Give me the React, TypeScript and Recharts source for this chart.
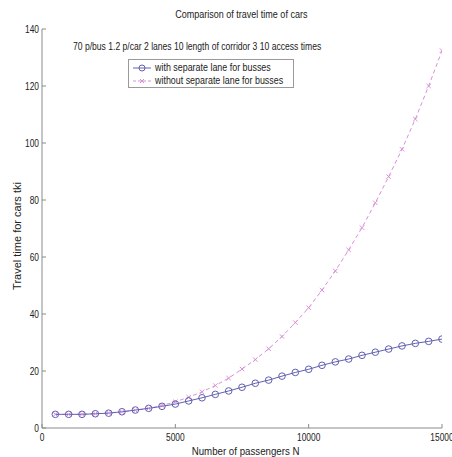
import React from 'react';
import { LineChart, Line, XAxis, YAxis } from 'recharts';

const passengers = [500, 1000, 1500, 2000, 2500, 3000, 3500, 4000, 4500, 5000, 5500, 6000, 6500, 7000, 7500, 8000, 8500, 9000, 9500, 10000, 10500, 11000, 11500, 12000, 12500, 13000, 13500, 14000, 14500, 15000];
const withLane = [4.8, 4.8, 4.8, 5.0, 5.2, 5.7, 6.3, 6.9, 7.6, 8.4, 9.5, 10.6, 11.8, 13.0, 14.3, 15.7, 16.8, 18.2, 19.5, 20.6, 22.0, 23.2, 24.2, 25.5, 26.6, 27.7, 28.8, 29.7, 30.4, 31.2];
const withoutLane = [4.8, 4.8, 4.8, 5.0, 5.3, 5.7, 6.2, 6.9, 7.9, 9.2, 10.8, 12.7, 14.9, 17.5, 20.7, 24.0, 27.8, 32.1, 37.0, 42.2, 48.4, 55.1, 62.5, 70.3, 79.0, 88.2, 97.8, 108.4, 120.0, 132.4];
const xTicks = [0, 5000, 10000, 15000];
const yTicks = [0, 20, 40, 60, 80, 100, 120, 140];
const seriesNames = ['with separate lane for busses', 'without separate lane for busses'];
const titleText = 'Comparison of travel time of cars';
const subtitleText = '70 p/bus 1.2 p/car 2 lanes 10 length of corridor 3 10 access times';
const xLabel = 'Number of passengers N';
const yLabel = 'Travel time for cars tki';

const data = passengers.map((n, i) => ({ n, a: withLane[i], b: withoutLane[i] }));

const FONT = '"Liberation Sans", Arial, sans-serif';
const BLUE = '#6060b0';
const PINK = '#d890d8';
const AXIS = '#8a8a8a';
const TEXT = '#222';
const SX = 0.84;

const BottomTick = (props: any) => {
  const { x, y, payload } = props;
  return (
    <g>
      <line x1={x} y1={y} x2={x} y2={y - 4} stroke={AXIS} />
      <text transform={`translate(${x},${y + 13}) scale(${SX},1)`} x={0} y={0} textAnchor="middle" fontSize={10} fontFamily={FONT} fill={TEXT}>{payload.value}</text>
    </g>
  );
};
const TopTick = (props: any) => {
  const { x, y } = props;
  return <line x1={x} y1={y} x2={x} y2={y + 4} stroke={AXIS} />;
};
const LeftTick = (props: any) => {
  const { x, y, payload } = props;
  return (
    <g>
      <line x1={x} y1={y} x2={x + 4} y2={y} stroke={AXIS} />
      <text transform={`translate(${x - 3},${y}) scale(${SX},1)`} x={0} y={0} dy="0.35em" textAnchor="end" fontSize={10} fontFamily={FONT} fill={TEXT}>{payload.value}</text>
    </g>
  );
};
const RightTick = (props: any) => {
  const { x, y } = props;
  return <line x1={x} y1={y} x2={x - 4} y2={y} stroke={AXIS} />;
};

const CircleDot = (props: any) => {
  const { cx, cy, index } = props;
  if (cx == null || cy == null) return null;
  return <circle key={`c${index}`} cx={cx} cy={cy} r={3.3} fill="none" stroke={BLUE} strokeWidth={1} />;
};
const XDot = (props: any) => {
  const { cx, cy, index } = props;
  if (cx == null || cy == null) return null;
  const s = 2.2;
  return (
    <g key={`x${index}`}>
      <line x1={cx - s} y1={cy - s} x2={cx + s} y2={cy + s} stroke={PINK} strokeWidth={1} />
      <line x1={cx - s} y1={cy + s} x2={cx + s} y2={cy - s} stroke={PINK} strokeWidth={1} />
    </g>
  );
};

const narrow = (s: number, origin: string): React.CSSProperties => ({ display: 'inline-block', transform: `scaleX(${s})`, transformOrigin: origin, whiteSpace: 'nowrap' });

const LegendBox = () => (
  <div style={{ position: 'absolute', left: 128, top: 59, border: '1px solid #9a9a9a', background: '#fff', width: 166, height: 29, boxSizing: 'border-box', fontFamily: FONT, fontSize: 10, color: TEXT }}>
    {[0, 1].map((i) => (
      <div key={i} style={{ position: 'absolute', left: 3, top: 1 + i * 13, height: 13, display: 'flex', alignItems: 'center', whiteSpace: 'nowrap' }}>
        <svg width={20} height={12} style={{ display: 'block' }}>
          {i === 0 ? (
            <g>
              <line x1={1} y1={6} x2={19} y2={6} stroke={BLUE} />
              <circle cx={10} cy={6} r={3} fill="none" stroke={BLUE} />
            </g>
          ) : (
            <g>
              <line x1={1} y1={6} x2={19} y2={6} stroke={PINK} strokeDasharray="3 2" />
              <line x1={8} y1={4} x2={12} y2={8} stroke={PINK} />
              <line x1={8} y1={8} x2={12} y2={4} stroke={PINK} />
            </g>
          )}
        </svg>
        <span style={{ ...narrow(0.89, 'left center'), marginLeft: 3 }}>{seriesNames[i]}</span>
      </div>
    ))}
  </div>
);

export default function App() {
  return (
    <div style={{ position: 'absolute', left: 0, top: 0, width: 452, height: 457, background: '#fff', overflow: 'hidden' }}>
      <LineChart width={452} height={457} data={data} margin={{ top: 29, right: 10, bottom: 0, left: 0 }}>
        <XAxis dataKey="n" type="number" domain={[0, 15000]} ticks={xTicks} height={29} tickSize={0} tickMargin={0} tick={<BottomTick />} axisLine={{ stroke: AXIS }} tickLine={false} interval={0} allowDataOverflow />
        <XAxis xAxisId="top" orientation="top" dataKey="n" type="number" domain={[0, 15000]} ticks={xTicks} height={0} tickSize={0} tickMargin={0} tick={<TopTick />} axisLine={{ stroke: AXIS }} tickLine={false} interval={0} allowDataOverflow />
        <YAxis type="number" domain={[0, 140]} ticks={yTicks} width={42} tickSize={0} tickMargin={0} tick={<LeftTick />} axisLine={{ stroke: AXIS }} tickLine={false} interval={0} allowDataOverflow />
        <YAxis yAxisId="right" orientation="right" type="number" domain={[0, 140]} ticks={yTicks} width={0} tickSize={0} tickMargin={0} tick={<RightTick />} axisLine={{ stroke: AXIS }} tickLine={false} interval={0} allowDataOverflow />
        <Line dataKey="b" name={seriesNames[1]} stroke={PINK} strokeWidth={1} strokeDasharray="4 3" dot={<XDot />} activeDot={false} isAnimationActive={false} type="linear" />
        <Line dataKey="a" name={seriesNames[0]} stroke={BLUE} strokeWidth={1} dot={<CircleDot />} activeDot={false} isAnimationActive={false} type="linear" />
      </LineChart>
      <LegendBox />
      <div style={{ position: 'absolute', left: 0, width: 482, top: 9, textAlign: 'center', fontFamily: FONT, fontSize: 10, color: TEXT }}>
        <span style={narrow(0.9, 'center center')}>{titleText}</span>
      </div>
      <div style={{ position: 'absolute', left: 73, top: 41, fontFamily: FONT, fontSize: 10, color: TEXT }}>
        <span style={narrow(0.857, 'left center')}>{subtitleText}</span>
      </div>
      <div style={{ position: 'absolute', left: 0, width: 492, top: 446, textAlign: 'center', fontFamily: FONT, fontSize: 10, color: TEXT }}>
        <span style={narrow(0.97, 'center center')}>{xLabel}</span>
      </div>
      <div style={{ position: 'absolute', left: 17, top: 236, width: 0, height: 0 }}>
        <div style={{ position: 'absolute', left: 0, top: 0, transform: 'translate(-50%, -50%) rotate(-90deg)', fontFamily: FONT, fontSize: 11, color: TEXT, whiteSpace: 'nowrap' }}>{yLabel}</div>
      </div>
    </div>
  );
}
